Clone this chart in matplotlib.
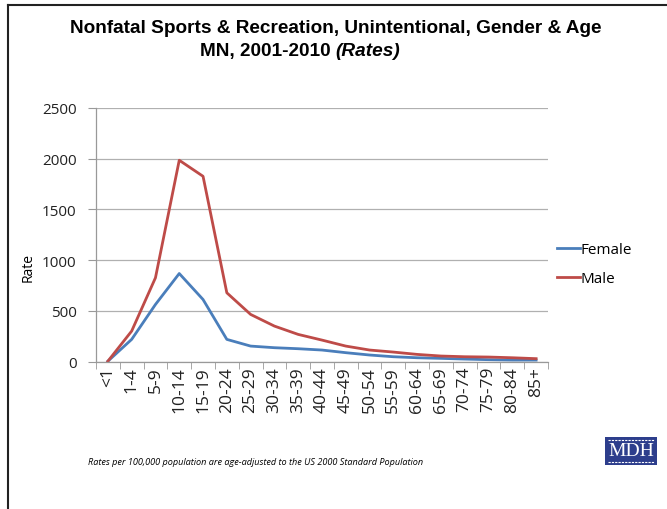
import matplotlib.pyplot as plt
from matplotlib.patches import Rectangle
from matplotlib.lines import Line2D

ages = ["<1", "1-4", "5-9", "10-14", "15-19", "20-24", "25-29", "30-34", "35-39",
        "40-44", "45-49", "50-54", "55-59", "60-64", "65-69", "70-74", "75-79",
        "80-84", "85+"]
female = [5, 220, 564, 869, 613, 220, 154, 138, 128, 115, 89, 66, 49, 39, 33, 26, 20, 16, 16]
male = [5, 302, 827, 1985, 1827, 679, 466, 351, 269, 213, 154, 115, 95, 72, 56, 49, 46, 39, 30]
yticks = [0, 500, 1000, 1500, 2000, 2500]

plt.rcParams['font.family'] = ['Liberation Sans', 'DejaVu Sans']
body = ['Open Sans', 'DejaVu Sans']

fig = plt.figure(figsize=(6.67, 5.10), dpi=100)
ax = fig.add_axes([0.1439, 0.2888, 0.6777, 0.4975])

x = list(range(len(ages)))
ax.plot(x, female, color="#4a7ebb", lw=2.0, label="Female")
ax.plot(x, male, color="#be4b48", lw=2.0, label="Male")

ax.set_xlim(-0.5, len(ages) - 0.5)
ax.set_ylim(0, 2500)
ax.set_yticks(yticks)
ax.set_yticklabels([str(v) for v in yticks], fontsize=11, color="#222222", family=body)
ax.set_xticks(x)
ax.set_xticklabels(ages, rotation=90, fontsize=12.5, color="#222222", family=body)
ax.tick_params(axis='x', length=0, pad=3)
ax.set_xticks([i - 0.5 for i in range(len(ages) + 1)], minor=True)
ax.tick_params(axis='x', which='minor', length=5, color="#999999")
ax.tick_params(axis='y', length=6, color="#999999", pad=8)

ax.grid(axis='y', color="#b0b0b0", lw=0.9)
ax.set_axisbelow(True)
for s in ["top", "right"]:
    ax.spines[s].set_visible(False)
for s in ["left", "bottom"]:
    ax.spines[s].set_color("#999999")
    ax.spines[s].set_linewidth(0.9)

ax.legend(loc="center left", bbox_to_anchor=(0.99, 0.385), frameon=False,
          handlelength=1.5, handletextpad=0.05, labelspacing=0.9,
          prop={'family': body, 'size': 11})

fig.text(0.042, 0.476, "Rate", rotation=90, ha="center", va="center", fontsize=10,
         family=body)

fig.text(0.503, 0.944, "Nonfatal Sports & Recreation, Unintentional, Gender & Age",
         ha="center", va="center", fontsize=13.7, fontweight="bold")
fig.text(0.503, 0.899, "MN, 2001-2010 ", ha="right", va="center", fontsize=13.7,
         fontweight="bold")
fig.text(0.503, 0.899, "(Rates)", ha="left", va="center", fontsize=13.7,
         fontweight="bold", style="italic")

fig.text(0.132, 0.094, "Rates per 100,000 population are age-adjusted to the US 2000 Standard Population",
         ha="left", va="center", fontsize=6.55, style="italic", family=body)

# frame
fig.add_artist(Line2D([8 / 667, 8 / 667], [0, 1 - 6 / 510], transform=fig.transFigure,
                      color="#222222", lw=1.5))
fig.add_artist(Line2D([8 / 667, 1], [1 - 6 / 510, 1 - 6 / 510], transform=fig.transFigure,
                      color="#222222", lw=1.5))

# MDH logo
lx, ly, lw_, lh = 605 / 667, 1 - 466 / 510, 52 / 667, 28 / 510
fig.add_artist(Rectangle((lx, ly), lw_, lh, transform=fig.transFigure,
                         facecolor="#2d3e8c", edgecolor="none"))
fig.text(lx + lw_ / 2, ly + lh / 2, "MDH", ha="center", va="center", fontsize=14,
         color="white", family=['Liberation Serif', 'DejaVu Serif'])
for yy in (ly + lh * 0.9, ly + lh * 0.1):
    fig.add_artist(Line2D([lx + lw_ * 0.05, lx + lw_ * 0.95], [yy, yy],
                          transform=fig.transFigure, color="white", lw=0.8,
                          ls=(0, (2, 1))))

fig.savefig("out.png", dpi=100, facecolor="white")
